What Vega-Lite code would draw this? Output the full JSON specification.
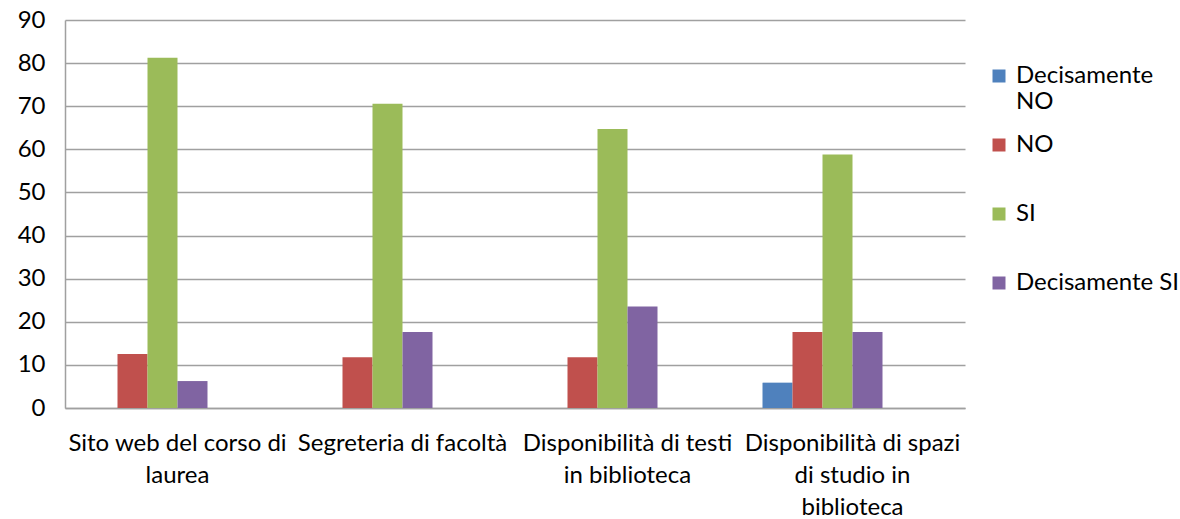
{
  "$schema": "https://vega.github.io/schema/vega-lite/v6.json",
  "width": 900,
  "height": 388,
  "autosize": {"type": "none"},
  "padding": {"left": 65, "top": 20, "right": 215, "bottom": 111},
  "background": "white",
  "config": {"view": {"stroke": null}, "font": "Lato"},
  "data": {
    "values": [
      {"voce": "Sito web del corso di laurea", "risposta": "NO", "valore": 12.5},
      {"voce": "Sito web del corso di laurea", "risposta": "SI", "valore": 81.25},
      {"voce": "Sito web del corso di laurea", "risposta": "Decisamente SI", "valore": 6.25},
      {"voce": "Segreteria di facoltà", "risposta": "NO", "valore": 11.76},
      {"voce": "Segreteria di facoltà", "risposta": "SI", "valore": 70.59},
      {"voce": "Segreteria di facoltà", "risposta": "Decisamente SI", "valore": 17.65},
      {"voce": "Disponibilità di testi in biblioteca", "risposta": "NO", "valore": 11.76},
      {"voce": "Disponibilità di testi in biblioteca", "risposta": "SI", "valore": 64.71},
      {"voce": "Disponibilità di testi in biblioteca", "risposta": "Decisamente SI", "valore": 23.53},
      {"voce": "Disponibilità di spazi di studio in biblioteca", "risposta": "Decisamente NO", "valore": 5.88},
      {"voce": "Disponibilità di spazi di studio in biblioteca", "risposta": "NO", "valore": 17.65},
      {"voce": "Disponibilità di spazi di studio in biblioteca", "risposta": "SI", "valore": 58.82},
      {"voce": "Disponibilità di spazi di studio in biblioteca", "risposta": "Decisamente SI", "valore": 17.65}
    ]
  },
  "mark": {"type": "bar"},
  "encoding": {
    "x": {
      "field": "voce",
      "type": "nominal",
      "sort": null,
      "scale": {"paddingInner": 0.2, "paddingOuter": 0.1},
      "axis": {
        "title": null,
        "labelAngle": 0,
        "ticks": false,
        "domainColor": "#a0a0a0",
        "domainWidth": 1.5,
        "labelFont": "Lato",
        "labelFontSize": 24,
        "labelColor": "#000000",
        "labelPadding": 23,
        "labelLineHeight": 32,
        "labelLimit": 400,
        "labelExpr": "datum.label == 'Sito web del corso di laurea' ? ['Sito web del corso di', 'laurea'] : datum.label == 'Disponibilità di testi in biblioteca' ? ['Disponibilità di testi', 'in biblioteca'] : datum.label == 'Disponibilità di spazi di studio in biblioteca' ? ['Disponibilità di spazi', 'di studio in', 'biblioteca'] : datum.label"
      }
    },
    "xOffset": {
      "field": "risposta",
      "type": "nominal",
      "scale": {"domain": ["Decisamente NO", "NO", "SI", "Decisamente SI", "_5", "_6"], "paddingInner": 0, "paddingOuter": 0}
    },
    "y": {
      "field": "valore",
      "type": "quantitative",
      "scale": {"domain": [0, 90], "nice": false},
      "axis": {
        "title": null,
        "values": [0, 10, 20, 30, 40, 50, 60, 70, 80, 90],
        "ticks": false,
        "grid": true,
        "gridColor": "#a0a0a0",
        "gridWidth": 1.5,
        "domainColor": "#a0a0a0",
        "domainWidth": 1.5,
        "labelFont": "Lato",
        "labelFontSize": 24,
        "labelColor": "#000000",
        "labelPadding": 20
      }
    },
    "color": {
      "field": "risposta",
      "type": "nominal",
      "scale": {
        "domain": ["Decisamente NO", "NO", "SI", "Decisamente SI"],
        "range": ["#4F81BD", "#C0504D", "#9BBB59", "#8064A2"]
      },
      "legend": {
        "title": null,
        "orient": "none",
        "legendX": 922,
        "legendY": 44,
        "gridAlign": "all",
        "symbolType": "square",
        "symbolSize": 169,
        "symbolStrokeWidth": 0,
        "labelFont": "Lato",
        "labelFontSize": 24,
        "labelColor": "#000000",
        "labelOffset": 5,
        "labelLineHeight": 29,
        "labelLimit": 200,
        "rowPadding": 19,
        "labelExpr": "datum.label == 'Decisamente NO' ? ['Decisamente', 'NO'] : datum.label"
      }
    }
  }
}
